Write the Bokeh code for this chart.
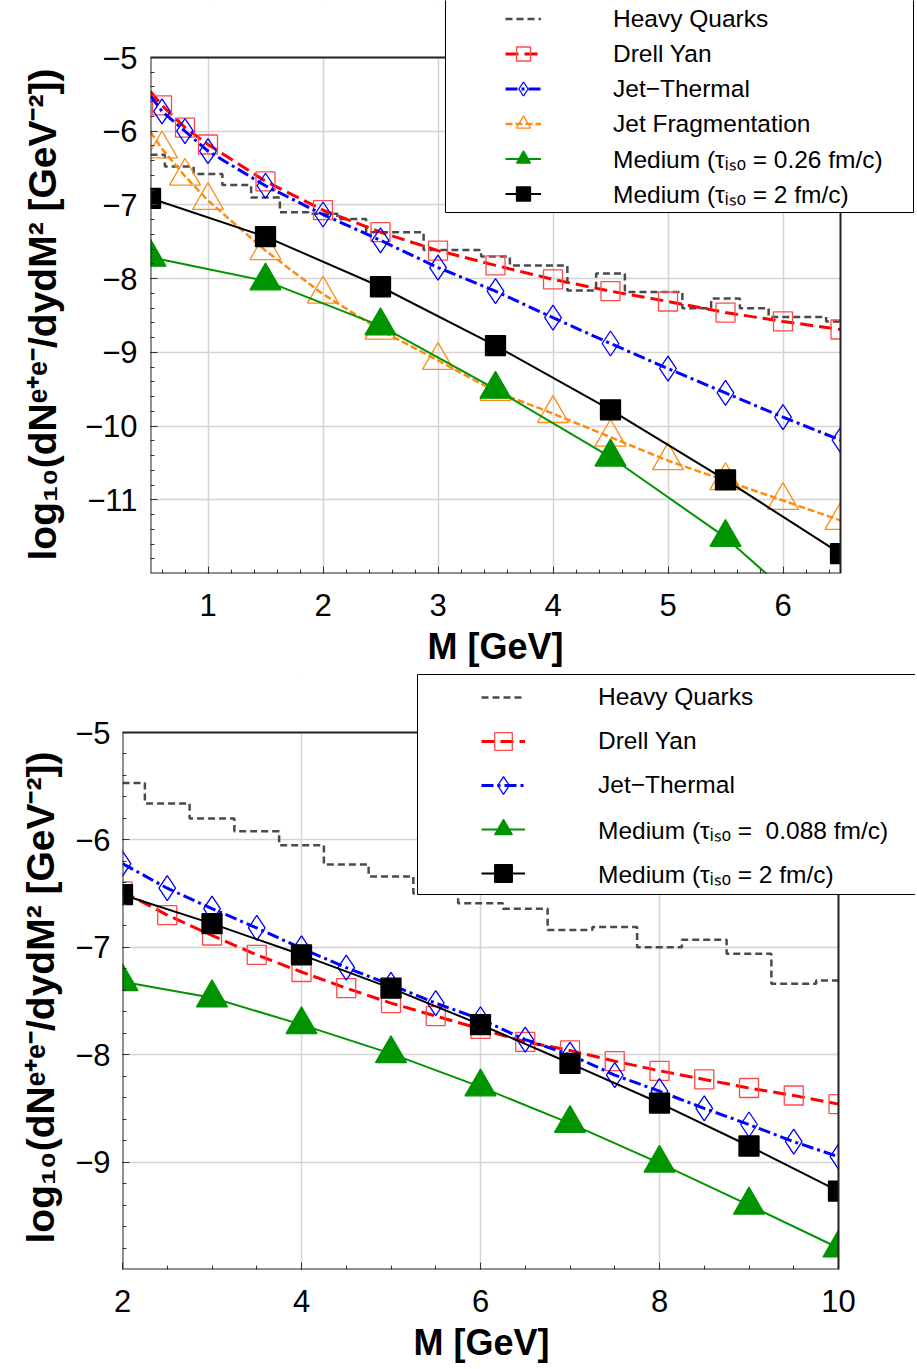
import numpy as np
from bokeh.plotting import figure
from bokeh.models import FixedTicker, Legend, LegendItem, Range1d, BoxAnnotation, Title
from bokeh.embed import file_html
from bokeh.resources import INLINE

FONT = "Liberation Sans"

# ---------------- data: top panel ----------------
top_curve_m = [0.5, 0.6, 0.8, 1.0, 1.5, 2.0, 2.5, 3.0, 3.5, 4.0, 4.5, 5.0, 5.5, 6.0, 6.5]
top_drell_yan = [-5.46, -5.65, -5.95, -6.18, -6.68, -7.07, -7.37, -7.62, -7.82, -8.01, -8.17, -8.31, -8.46, -8.58, -8.69]
top_jet_thermal = [-5.52, -5.73, -6.00, -6.27, -6.74, -7.13, -7.48, -7.85, -8.17, -8.53, -8.88, -9.22, -9.55, -9.88, -10.19]
top_jet_frag = [-6.01, -6.24, -6.61, -6.94, -7.62, -8.21, -8.70, -9.11, -9.53, -9.83, -10.15, -10.47, -10.74, -11.01, -11.28]
top_medium_m = [0.5, 1.5, 2.5, 3.5, 4.5, 5.5, 6.5]
top_medium_026 = [-7.71, -8.03, -8.64, -9.50, -10.42, -11.51, -12.90]
top_medium_2 = [-6.91, -7.43, -8.11, -8.91, -9.78, -10.73, -11.73]
top_hq_m = [0.5, 0.75, 1.0, 1.25, 1.5, 1.75, 2.0, 2.25, 2.5, 2.75, 3.0, 3.25, 3.5,
            3.75, 4.0, 4.25, 4.5, 4.75, 5.0, 5.25, 5.5, 5.75, 6.0, 6.25, 6.5]
top_hq = [-6.32, -6.48, -6.58, -6.73, -6.90, -7.10, -7.12, -7.19, -7.37, -7.37, -7.61, -7.61, -7.70,
          -7.82, -7.82, -8.16, -7.93, -8.18, -8.18, -8.40, -8.27, -8.40, -8.52, -8.52, -8.58]
top_x_ticks = [1, 2, 3, 4, 5, 6]
top_y_ticks = [-11, -10, -9, -8, -7, -6, -5]

# ---------------- data: bottom panel ----------------
bot_m = [2.0, 2.5, 3.0, 3.5, 4.0, 4.5, 5.0, 5.5, 6.0, 6.5, 7.0, 7.5, 8.0, 8.5, 9.0, 9.5, 10.0]
bot_drell_yan = [-6.48, -6.70, -6.89, -7.07, -7.23, -7.38, -7.52, -7.64, -7.76, -7.88, -7.96, -8.06, -8.15, -8.23, -8.31, -8.38, -8.46]
bot_jet_thermal = [-6.22, -6.45, -6.64, -6.82, -7.01, -7.19, -7.35, -7.52, -7.67, -7.86, -8.00, -8.19, -8.34, -8.50, -8.65, -8.81, -8.95]
bot_hq = [-5.47, -5.66, -5.80, -5.92, -6.05, -6.23, -6.34, -6.50, -6.59, -6.64, -6.84, -6.81, -7.00, -6.93, -7.06, -7.34, -7.31]
bot_medium_m = [2, 3, 4, 5, 6, 7, 8, 9, 10]
bot_medium_0088 = [-7.32, -7.47, -7.72, -7.99, -8.30, -8.64, -9.01, -9.40, -9.80]
bot_medium_2 = [-6.51, -6.78, -7.07, -7.38, -7.72, -8.08, -8.45, -8.85, -9.27]
bot_x_ticks = [2, 4, 6, 8, 10]
bot_y_ticks = [-9, -8, -7, -6, -5]

# ---------------- styles ----------------
C_HQ = "#4a4a4a"
C_DY = "#ff0000"
C_DY_M = "#ff4a4a"
C_JT = "#0000ff"
C_JF = "#ff8c10"
C_MG = "#009400"
C_MB = "#000000"
XLABEL = "M [GeV]"
YLABEL = "log\u2081\u2080(dN\u1d49\u207a\u1d49\u207b/dydM\u00b2 [GeV\u207b\u00b2])"


def tick_text(v):
    return str(v).replace("-", "\u2212")


def build_panel(canvas_w, canvas_h, bl, bb, xlim, ylim, px_x, px_y,
                xt, xminor, yt, yminor, tick_standoff_x, tick_standoff_y,
                xlab_offset, xlab_standoff, ylab_offset, ylab_standoff):
    # the frame runs from the axes to the canvas top/right edges; the data box is xlim x ylim
    fw = canvas_w - bl
    fh = canvas_h - bb
    x_end = xlim[0] + fw / px_x
    y_end = ylim[0] + fh / px_y
    p = figure(frame_width=fw, frame_height=fh,
               min_border_left=bl, min_border_right=0, min_border_top=0, min_border_bottom=bb,
               x_range=Range1d(xlim[0], x_end), y_range=Range1d(ylim[0], y_end),
               output_backend="svg", toolbar_location=None)
    p.outline_line_color = None
    xtk = FixedTicker(ticks=xt, minor_ticks=xminor)
    ytk = FixedTicker(ticks=yt, minor_ticks=yminor)
    p.xaxis.ticker = xtk
    p.yaxis.ticker = ytk
    p.xgrid.ticker = xtk
    p.ygrid.ticker = ytk
    p.xaxis.bounds = xlim
    p.yaxis.bounds = ylim
    p.xaxis.major_label_overrides = {t: tick_text(t) for t in xt}
    p.yaxis.major_label_overrides = {t: tick_text(t) for t in yt}
    for ax in p.axis:
        ax.major_tick_in = 7
        ax.major_tick_out = 0
        ax.minor_tick_in = 4
        ax.minor_tick_out = 0
        ax.major_tick_line_color = "#333333"
        ax.minor_tick_line_color = "#333333"
        ax.axis_line_color = None
        ax.major_label_text_font = FONT
        ax.major_label_text_font_size = "31px"
        ax.major_label_text_color = "#000000"
    p.xaxis.major_label_standoff = tick_standoff_x
    p.yaxis.major_label_standoff = tick_standoff_y
    p.add_layout(Title(text=XLABEL, align="left", offset=xlab_offset, standoff=xlab_standoff,
                       vertical_align="middle", text_font=FONT, text_font_size="36px",
                       text_font_style="bold", text_color="#000000"), "below")
    p.add_layout(Title(text=YLABEL, align="left", offset=ylab_offset, standoff=ylab_standoff,
                       vertical_align="middle", text_font=FONT, text_font_size="39px",
                       text_font_style="bold", text_color="#000000"), "left")
    p.grid.grid_line_color = "#d4d4d4"
    p.grid.grid_line_width = 1.5
    return p


def finish_frame(p, xlim, ylim):
    # blank out everything outside the data box, then draw its frame
    p.add_layout(BoxAnnotation(bottom=ylim[1], fill_color="white", fill_alpha=1.0, line_alpha=0.0))
    p.add_layout(BoxAnnotation(left=xlim[1], fill_color="white", fill_alpha=1.0, line_alpha=0.0))
    p.add_layout(BoxAnnotation(left=xlim[0], right=xlim[1], bottom=ylim[0], top=ylim[1],
                               fill_alpha=0.0, line_color="#222222", line_alpha=1.0, line_width=2))


def add_series(p, x, y, color, dash, width, marker, msize, mfill, mcolor, mx=None, my=None):
    rl = p.line(x, y, line_color=color, line_dash=dash, line_width=width)
    rm = p.scatter(mx if mx is not None else x, my if my is not None else y, marker=marker, size=msize,
                   line_color=mcolor, line_width=1.3,
                   fill_color=mfill, fill_alpha=1.0 if mfill else 0.0)
    return [rl, rm]


def legend_box(p, left, right, bottom, top):
    p.add_layout(BoxAnnotation(left=left, right=right, bottom=bottom, top=top,
                               left_units="screen", right_units="screen",
                               bottom_units="screen", top_units="screen",
                               fill_color="white", fill_alpha=1.0, line_color="#000000",
                               line_alpha=1.0, line_width=1))


# ================= top panel =================
TOP_XLIM = (0.5, 6.5)
TOP_YLIM = (-12, -5)
top_minor_x = np.round(np.arange(0.6, 6.45, 0.2), 2).tolist()
top_minor_y = np.round(np.arange(-11.8, -5.05, 0.2), 2).tolist()
p1 = build_panel(915, 672, 150, 99, TOP_XLIM, TOP_YLIM, 115.0, 73.714,
                 top_x_ticks, top_minor_x, top_y_ticks, top_minor_y, 20, 13, 277, 12, 13, 34)

r_hq1 = p1.step(top_hq_m, top_hq, mode="center", line_color=C_HQ, line_dash="7 4", line_width=2.5)
r_dy1 = add_series(p1, top_curve_m, top_drell_yan, C_DY, "13 6", 3, "square", 19, None, C_DY_M,
                   top_curve_m[1:], top_drell_yan[1:])
r_jt1 = add_series(p1, top_curve_m, top_jet_thermal, C_JT, "12 4 3 4", 3, "diamond", 25, None, C_JT,
                   top_curve_m[1:], top_jet_thermal[1:])
r_jf1 = add_series(p1, top_curve_m, top_jet_frag, C_JF, "7 3", 2.5, "triangle", 31, None, C_JF,
                   top_curve_m[1:], top_jet_frag[1:])
r_mg1 = add_series(p1, top_medium_m, top_medium_026, C_MG, "solid", 2, "triangle", 31, C_MG, C_MG)
r_mb1 = add_series(p1, top_medium_m, top_medium_2, C_MB, "solid", 2, "square", 20, C_MB, C_MB)

finish_frame(p1, TOP_XLIM, TOP_YLIM)
legend_box(p1, 295, 763, 361, 600)
items1 = [
    LegendItem(label="Heavy Quarks", renderers=[r_hq1]),
    LegendItem(label="Drell Yan", renderers=r_dy1),
    LegendItem(label="Jet\u2212Thermal", renderers=r_jt1),
    LegendItem(label="Jet Fragmentation", renderers=r_jf1),
    LegendItem(label="Medium (\u03c4\u1d62\u209b\u2092 = 0.26 fm/c)", renderers=r_mg1),
    LegendItem(label="Medium (\u03c4\u1d62\u209b\u2092 = 2 fm/c)", renderers=r_mb1),
]
leg1 = Legend(items=items1, location=(355, 362), glyph_width=36, glyph_height=35, spacing=0,
              padding=0, margin=0, label_standoff=72, label_text_font=FONT,
              label_text_font_size="24.5px", label_text_color="#000000",
              border_line_color=None, background_fill_alpha=0.0)
p1.add_layout(leg1)

# ================= bottom panel =================
BOT_XLIM = (2, 10)
BOT_YLIM = (-10, -5)
bot_minor_x = np.round(np.arange(2.5, 9.95, 0.5), 2).tolist()
bot_minor_y = np.round(np.arange(-9.8, -5.05, 0.2), 2).tolist()
p2 = build_panel(915, 697, 122, 101, BOT_XLIM, BOT_YLIM, 89.5, 107.4,
                 bot_x_ticks, bot_minor_x, bot_y_ticks, bot_minor_y, 20, 12, 291, 12, 26, 20)

r_hq2 = p2.step(bot_m, bot_hq, mode="center", line_color=C_HQ, line_dash="7 4", line_width=2.5)
r_dy2 = add_series(p2, bot_m, bot_drell_yan, C_DY, "13 6", 3, "square", 19, None, C_DY_M)
r_jt2 = add_series(p2, bot_m, bot_jet_thermal, C_JT, "12 4 3 4", 3, "diamond", 25, None, C_JT)
r_mg2 = add_series(p2, bot_medium_m, bot_medium_0088, C_MG, "solid", 2, "triangle", 31, C_MG, C_MG)
r_mb2 = add_series(p2, bot_medium_m, bot_medium_2, C_MB, "solid", 2, "square", 20, C_MB, C_MB)

finish_frame(p2, BOT_XLIM, BOT_YLIM)
legend_box(p2, 295, 820, 375, 595)
items2 = [
    LegendItem(label="Heavy Quarks", renderers=[r_hq2]),
    LegendItem(label="Drell Yan", renderers=r_dy2),
    LegendItem(label="Jet\u2212Thermal", renderers=r_jt2),
    LegendItem(label="Medium (\u03c4\u1d62\u209b\u2092 =  0.088 fm/c)", renderers=r_mg2),
    LegendItem(label="Medium (\u03c4\u1d62\u209b\u2092 = 2 fm/c)", renderers=r_mb2),
]
leg2 = Legend(items=items2, location=(359, 374), glyph_width=44, glyph_height=44, spacing=0,
              padding=0, margin=0, label_standoff=73, label_text_font=FONT,
              label_text_font_size="24.5px", label_text_color="#000000",
              border_line_color=None, background_fill_alpha=0.0)
p2.add_layout(leg2)

open("out.html", "w").write(file_html([p1, p2], INLINE))
